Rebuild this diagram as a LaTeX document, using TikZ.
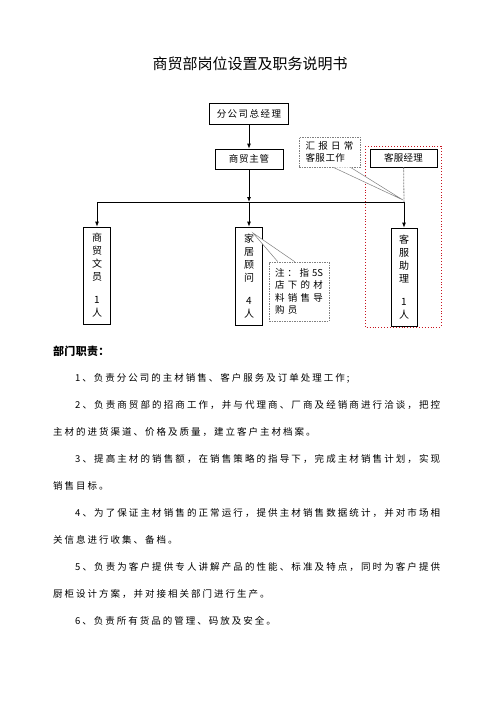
\documentclass[tikz,border=0pt]{standalone}
\usepackage{fontspec}
\setmainfont{Noto Sans CJK SC}
\usetikzlibrary{arrows.meta,calc}
\definecolor{dotred}{RGB}{200,20,30}
\ExplSyntaxOn
\NewDocumentCommand\trk{O{2pt}m}{\tl_map_inline:nn{#2}{##1\hskip #1 ~ plus ~ 1fil\relax}\unskip}
\ExplSyntaxOff
\begin{document}
\begin{tikzpicture}[x=1pt,y=-1pt,
  box/.style={draw, line width=0.8pt, inner sep=0pt, font=\fontsize{9.5pt}{11pt}\selectfont},
  vbox/.style={box, align=center, font=\fontsize{10pt}{13pt}\selectfont},
  arr/.style={line width=0.8pt, -{Latex[length=5pt,width=4pt]}},
  callout/.style={draw=gray, dash pattern=on 1.5pt off 1pt, line width=0.6pt, fill=white, inner sep=0pt, align=left, font=\fontsize{9.5pt}{12.5pt}\selectfont},
  wedge/.style={draw=gray, line width=0.5pt, fill=white},
  body/.style={anchor=west, inner sep=0pt, font=\fontsize{9.5pt}{11pt}\selectfont},
  heading/.style={anchor=west, inner sep=0pt, font=\fontsize{11pt}{13pt}\selectfont\bfseries}]
\useasboundingbox (0,0) rectangle (496,702);
% title
\node[inner sep=0pt, font=\fontsize{15pt}{17pt}\selectfont] (title) at (250,64) {商贸部岗位设置及职务说明书};
% boxes
\node[box, minimum width=79pt, minimum height=21pt] (gm) at (249,114) {\trk[1.5pt]{分公司总经理}};
\node[box, minimum width=68pt, minimum height=20pt] (mgr) at (249,159) {\trk[0.8pt]{商贸主管}};
\node[box, minimum width=67pt, minimum height=18pt] (csm) at (403.5,158) {\trk[0.3pt]{客服经理}};
\node[vbox, minimum width=27pt, minimum height=97pt] (clerk) at (97,275.5) {商\\贸\\文\\员\\[10pt]1\\人};
\node[vbox, minimum width=27pt, minimum height=98pt] (adv) at (249,276) {家\\居\\顾\\问\\[10pt]4\\人};
\node[vbox, minimum width=26pt, minimum height=98pt] (asst) at (404,277) {客\\服\\助\\理\\[10pt]1\\人};
% junctions
\coordinate (jL) at (97,202);
\coordinate (jM) at (249,202);
\coordinate (jR) at (404,202);
% connectors
\draw[arr] (gm) -- (mgr);
\draw[arr] (mgr) -- (jM);
\draw[line width=0.8pt] (jL) -- (jR);
\draw[arr] (jL) -- (clerk);
\draw[arr] (jM) -- (adv);
\draw[arr] (jR) -- (asst);
\draw[gray, line width=0.8pt, dash pattern=on 2pt off 1pt] (csm) -- (jR);
% red dotted frame
\draw[dotred, dotted, line width=0.9pt] (365,146) rectangle (441,327);
% callout 1
\node[callout, minimum width=61pt, minimum height=30pt] (c1) at (329.5,152) {\hbox to 48pt{\trk{汇报日常}}\\\hbox{\trk[0.5pt]{客服工作}}};
\coordinate (c1a) at ($(c1.south west)!0.56!(c1.south east)$);
\coordinate (c1b) at ($(c1.south west)!0.84!(c1.south east)$);
\coordinate (c1tip) at (403,200);
\draw[wedge] (c1a) -- (c1tip) -- (c1b);
% callout 2
\node[callout, minimum width=60pt, minimum height=59pt] (c2) at (299,291.5) {\hbox to 48pt{注\hfil：\hfil 指\hfil 5S}\\\hbox to 48pt{\trk{店下的材}}\\\hbox to 48pt{\trk{料销售导}}\\\hbox{\trk[3.3pt]{购员}}};
\coordinate (c2a) at ($(c2.north west)!0.15!(c2.north east)$);
\coordinate (c2b) at ($(c2.north west)!0.43!(c2.north east)$);
\coordinate (c2tip) at (253,233);
\draw[wedge] (c2a) -- (c2tip) -- (c2b);
% body text
\node[heading] (h) at (53,351) {\trk[0.3pt]{部门职责：}};
\node[body] (p1) at (75,378) {\trk{1、负责分公司的主材销售、客户服务及订单处理工作;}};
\node[body] (p2) at (75,405) {\hbox to 365pt{\trk{2、负责商贸部的招商工作，并与代理商、厂商及经销商进行洽谈，把控}}};
\node[body] (p2b) at (53,432) {\trk{主材的进货渠道、价格及质量，建立客户主材档案。}};
\node[body] (p3) at (75,459) {\hbox to 365pt{\trk{3、提高主材的销售额，在销售策略的指导下，完成主材销售计划，实现}}};
\node[body] (p3b) at (53,486) {\trk{销售目标。}};
\node[body] (p4) at (75,513) {\hbox to 365pt{\trk{4、为了保证主材销售的正常运行，提供主材销售数据统计，并对市场相}}};
\node[body] (p4b) at (53,540) {\trk{关信息进行收集、备档。}};
\node[body] (p5) at (75,567) {\hbox to 365pt{\trk{5、负责为客户提供专人讲解产品的性能、标准及特点，同时为客户提供}}};
\node[body] (p5b) at (53,594) {\trk{厨柜设计方案，并对接相关部门进行生产。}};
\node[body] (p6) at (75,621) {\trk{6、负责所有货品的管理、码放及安全。}};
\end{tikzpicture}
\end{document}
